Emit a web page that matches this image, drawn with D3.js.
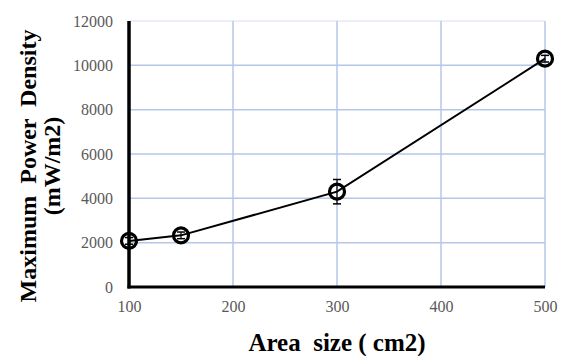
<!DOCTYPE html>
<html>
<head>
<meta charset="utf-8">
<script src="https://cdn.jsdelivr.net/npm/d3@7"></script>
<style>
  body { margin: 0; background: #fff; }
  svg text { font-family: "Liberation Serif", "Times New Roman", serif; }
</style>
</head>
<body>
<div id="chart"></div>
<script>
const areas = [100, 150, 300, 500];
const powerDensity = [2080, 2330, 4300, 10300];
const errors = [150, 150, 550, 150];
const xTicks = [100, 200, 300, 400, 500];
const yTicks = [0, 2000, 4000, 6000, 8000, 10000, 12000];

const margin = { top: 21, right: 20, bottom: 69, left: 129 };
const width = 545 - margin.left;
const height = 287 - margin.top;

const svg = d3
  .select("#chart")
  .append("svg")
  .attr("width", 565)
  .attr("height", 356)
  .append("g")
  .attr("transform", `translate(${margin.left},${margin.top})`);

const x = d3.scaleLinear().domain([100, 500]).range([0, width]);
const y = d3.scaleLinear().domain([0, 12000]).range([height, 0]);

// grid lines
svg
  .append("g")
  .selectAll("line")
  .data(yTicks.filter((d) => d > 0))
  .join("line")
  .attr("x1", 0)
  .attr("x2", width)
  .attr("y1", (d) => y(d))
  .attr("y2", (d) => y(d))
  .attr("stroke", (d) => (d === 12000 ? "#e3eaf6" : "#b4c7e7"))
  .attr("stroke-width", 1.5);

svg
  .append("g")
  .selectAll("line")
  .data(xTicks.filter((d) => d > 100))
  .join("line")
  .attr("x1", (d) => x(d))
  .attr("x2", (d) => x(d))
  .attr("y1", y(12000))
  .attr("y2", height)
  .attr("stroke", "#b4c7e7")
  .attr("stroke-width", 1.5);

// axes
const yAxis = svg
  .append("g")
  .call(d3.axisLeft(y).tickValues(yTicks).tickSize(0).tickPadding(16).tickFormat(d3.format("d")));
yAxis.select(".domain").remove();
yAxis.selectAll("text").attr("fill", "#595959").style("font-size", "16px");

const xAxis = svg
  .append("g")
  .attr("transform", `translate(0,${height})`)
  .call(d3.axisBottom(x).tickValues(xTicks).tickSize(0).tickPadding(14).tickFormat(d3.format("d")));
xAxis.select(".domain").remove();
xAxis.selectAll("text").attr("fill", "#595959").style("font-size", "16px");

svg
  .append("line")
  .attr("x1", 0)
  .attr("x2", 0)
  .attr("y1", y(12000))
  .attr("y2", height + 1.5)
  .attr("stroke", "#000")
  .attr("stroke-width", 3.5);

svg
  .append("line")
  .attr("x1", -1.5)
  .attr("x2", width)
  .attr("y1", height)
  .attr("y2", height)
  .attr("stroke", "#000")
  .attr("stroke-width", 3);

const data = areas.map((a, i) => ({ a, v: powerDensity[i], e: errors[i] }));

// line
svg
  .append("path")
  .datum(data)
  .attr("fill", "none")
  .attr("stroke", "#000")
  .attr("stroke-width", 2)
  .attr("d", d3.line().x((d) => x(d.a)).y((d) => y(d.v)));

// error bars
const eb = svg.append("g").selectAll("g").data(data).join("g");
eb.append("line")
  .attr("x1", (d) => x(d.a))
  .attr("x2", (d) => x(d.a))
  .attr("y1", (d) => y(d.v + d.e))
  .attr("y2", (d) => y(d.v - d.e))
  .attr("stroke", "#000")
  .attr("stroke-width", 1.2);
eb.append("line")
  .attr("x1", (d) => x(d.a) - 4)
  .attr("x2", (d) => x(d.a) + 4)
  .attr("y1", (d) => y(d.v + d.e))
  .attr("y2", (d) => y(d.v + d.e))
  .attr("stroke", "#000")
  .attr("stroke-width", 1.5);
eb.append("line")
  .attr("x1", (d) => x(d.a) - 4)
  .attr("x2", (d) => x(d.a) + 4)
  .attr("y1", (d) => y(d.v - d.e))
  .attr("y2", (d) => y(d.v - d.e))
  .attr("stroke", "#000")
  .attr("stroke-width", 1.5);

// markers
svg
  .append("g")
  .selectAll("circle")
  .data(data)
  .join("circle")
  .attr("cx", (d) => x(d.a))
  .attr("cy", (d) => y(d.v))
  .attr("r", 7.5)
  .attr("fill", "none")
  .attr("stroke", "#000")
  .attr("stroke-width", 3.2);

// axis titles
svg
  .append("text")
  .attr("x", 337 - margin.left)
  .attr("y", 351 - margin.top)
  .attr("text-anchor", "middle")
  .style("font-size", "25px")
  .style("font-weight", "bold")
  .style("white-space", "pre")
  .text("Area  size ( cm2)");

const yTitle = svg
  .append("text")
  .attr("transform", `translate(${36 - margin.left},${166 - margin.top}) rotate(-90)`)
  .attr("text-anchor", "middle")
  .style("font-size", "24px")
  .style("font-weight", "bold")
  .style("white-space", "pre");
yTitle.append("tspan").attr("x", 0).attr("dy", 0).text("Maximum  Power  Density");
yTitle.append("tspan").attr("x", 0).attr("dy", 24).text("(mW/m2)");
</script>
</body>
</html>
